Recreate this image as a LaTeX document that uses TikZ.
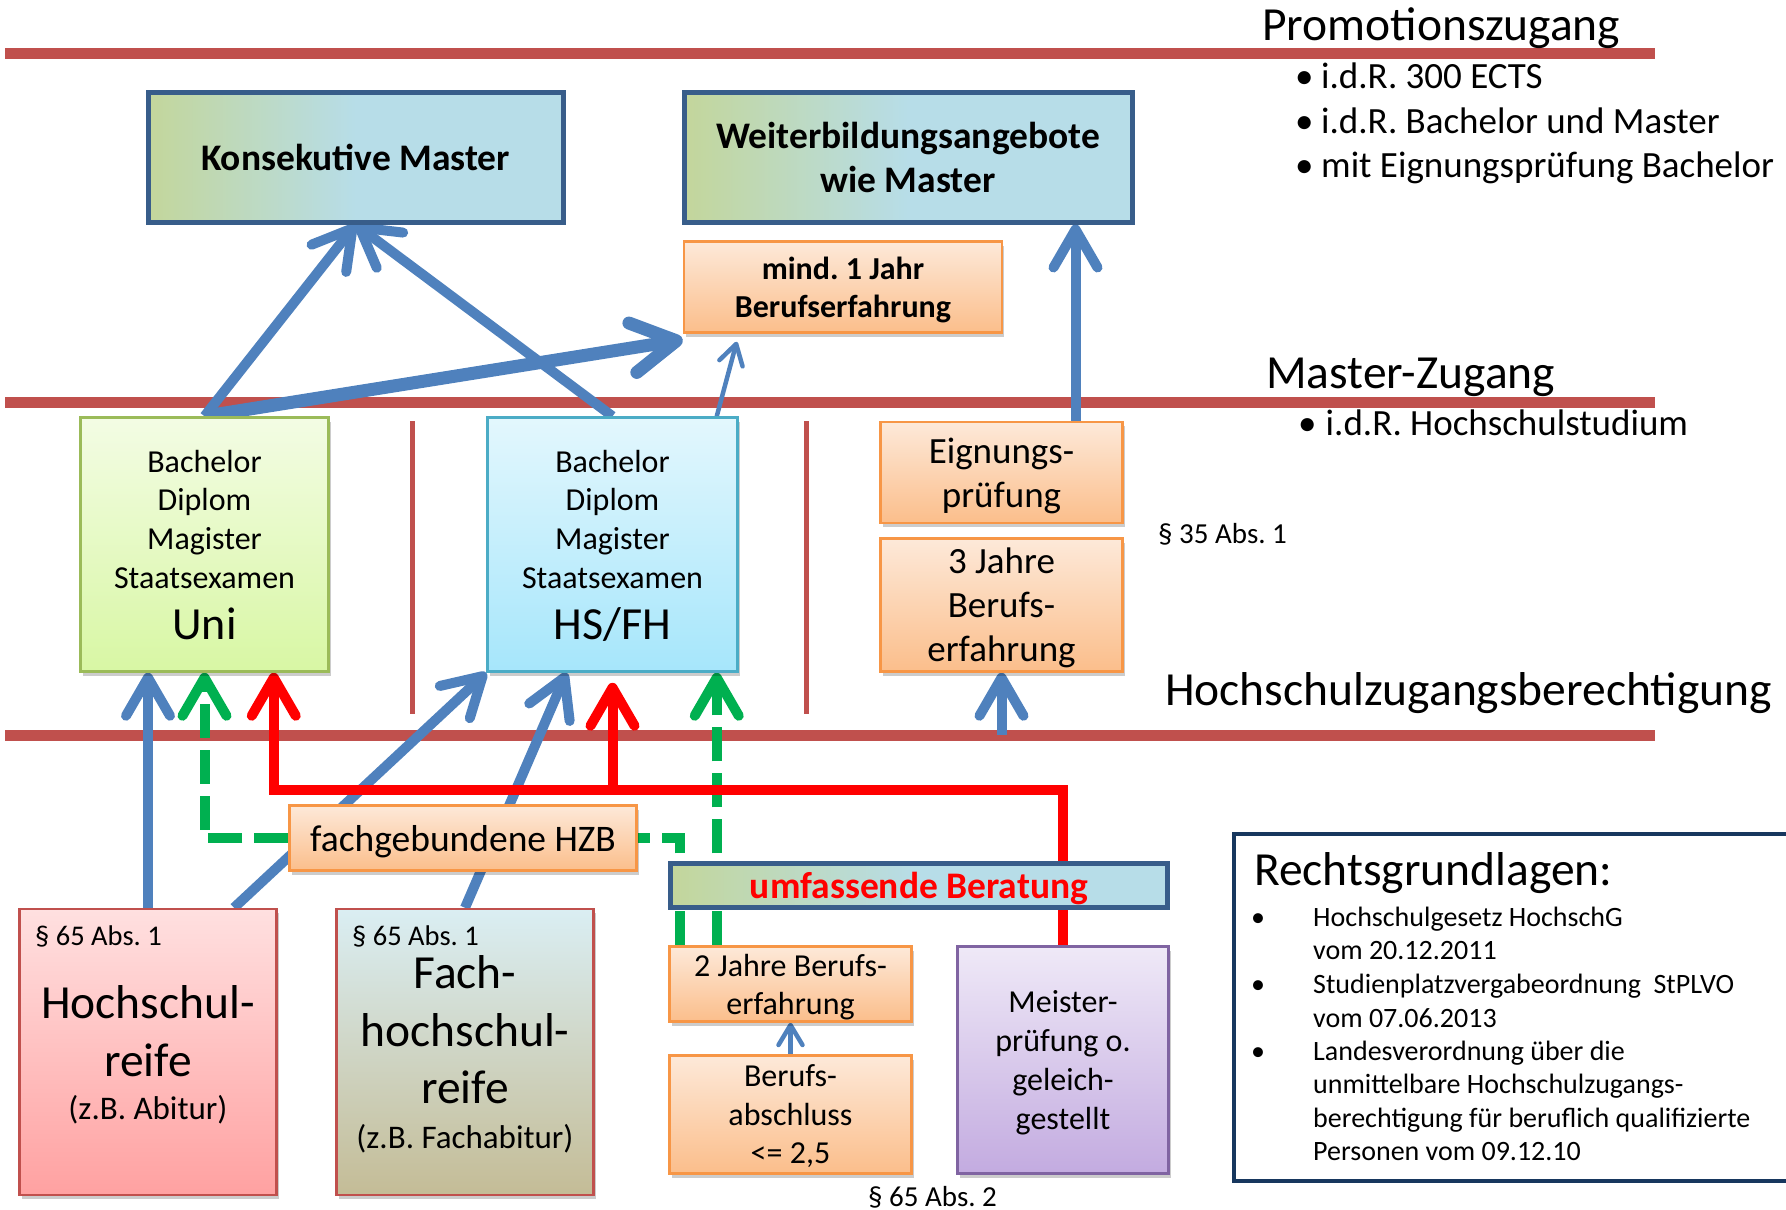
\documentclass[tikz,border=0pt]{standalone}
\usepackage{fontspec}
\setmainfont{Carlito}
\frenchspacing
\usetikzlibrary{arrows.meta,shadows,calc}
\newcommand\myfs[2]{\fontsize{#1}{#2}\selectfont}
\definecolor{bandred}{HTML}{C0504D}
\definecolor{arrblue}{HTML}{4F81BD}
\definecolor{arrgreen}{HTML}{00B050}
\definecolor{arrred}{HTML}{FF0000}
\definecolor{navyA}{HTML}{385D8A}
\definecolor{navyB}{HTML}{17375E}
\definecolor{gbL}{HTML}{C3D69B}
\definecolor{gbR}{HTML}{B7DDE8}
\definecolor{orBorder}{HTML}{F79646}
\definecolor{orTop}{HTML}{FDE9D9}
\definecolor{orBot}{HTML}{FBBE8B}
\definecolor{uniTop}{HTML}{F3FCE4}
\definecolor{uniBot}{HTML}{D8F7A4}
\definecolor{uniBorder}{HTML}{9BBB59}
\definecolor{hsTop}{HTML}{E3F7FD}
\definecolor{hsBot}{HTML}{A6E6FB}
\definecolor{hsBorder}{HTML}{4BACC6}
\definecolor{hsrTop}{HTML}{FFE0E0}
\definecolor{hsrBot}{HTML}{FFA1A1}
\definecolor{fhrTop}{HTML}{DAEEF3}
\definecolor{fhrBot}{HTML}{C4BC96}
\definecolor{meisTop}{HTML}{EFE9F7}
\definecolor{meisBot}{HTML}{C3ABE0}
\definecolor{meisBorder}{HTML}{8064A2}
\pgfdeclarelayer{bg}
\pgfdeclarelayer{arr}
\pgfsetlayers{bg,arr,main}
\begin{document}
\begin{tikzpicture}[x=1pt,y=-1pt,
  bandline/.style={draw=bandred,line width=11pt},
  divider/.style={draw=bandred,line width=5pt},
  boxbase/.style={rectangle,inner sep=0pt,align=center,line width=2.5pt,text depth=0pt},
  shad/.style={drop shadow={shadow xshift=2pt,shadow yshift=-4pt,fill=black,opacity=0.2}},
  orbox/.style={boxbase,shad,draw=orBorder,top color=orTop,bottom color=orBot},
  gbbox/.style={boxbase,draw=navyA,line width=5pt,left color=gbL,right color=gbR,middle color=gbR},
  freetext/.style={inner sep=0pt,anchor=base west},
  titletext/.style={freetext,font=\myfs{47.5}{50}},
  bullettext/.style={freetext,font=\myfs{37}{44}},
  legaltext/.style={freetext,font=\myfs{28}{33}},
  arrB/.style={draw=arrblue,line width=10pt,-{Straight Barb[length=38pt,width=44pt,round]}},
  arrBthick/.style={draw=arrblue,line width=13pt,-{Straight Barb[length=44pt,width=50pt,round]}},
  arrBthin/.style={draw=arrblue,line width=4.5pt,-{Straight Barb[length=20pt,width=24pt,round]}},
  arrG/.style={draw=arrgreen,line width=10pt,dash pattern=on 34pt off 12pt,-{Straight Barb[length=38pt,width=44pt,round]}},
  lineG/.style={draw=arrgreen,line width=10pt,dash pattern=on 34pt off 12pt},
  arrR/.style={draw=arrred,line width=10pt,line join=miter,-{Straight Barb[length=38pt,width=44pt,round]}}
]
\useasboundingbox (0,0) rectangle (1786,1210);

% bands
\begin{pgfonlayer}{bg}
\draw[bandline] (5,53) -- (1655,53);
\draw[bandline] (5,402) -- (1655,402);
\draw[bandline] (5,735) -- (1655,735);
\draw[divider] (412,421) -- (412,714);
\draw[divider] (806,421) -- (806,714);
\end{pgfonlayer}

% titles
\node[titletext] (prom) at (1262,40) {Promotionszugang};
\node[bullettext] (pb1) at (1295,88) {\makebox[26pt][l]{•}i.d.R. 300 ECTS};
\node[bullettext] (pb2) at (1295,133) {\makebox[26pt][l]{•}i.d.R. Bachelor und Master};
\node[bullettext] (pb3) at (1295,177) {\makebox[26pt][l]{•}mit Eignungsprüfung Bachelor};
\node[titletext] (mzug) at (1266,388) {Master-Zugang};
\node[bullettext] (mb1) at (1298,435) {\makebox[27.5pt][l]{•}i.d.R. Hochschulstudium};
\node[titletext] (hzb) at (1165,705) {Hochschulzugangsberechtigung};
\node[freetext,font=\myfs{29}{33}] (p35) at (1158,543) {§ 35 Abs. 1};
\node[freetext,font=\myfs{29}{33}] (p652) at (868,1206) {§ 65 Abs. 2};

% top boxes
\node[gbbox,minimum width=415pt,minimum height=130pt,font=\bfseries\myfs{37.5}{44}] (kons) at (355.5,157) {Konsekutive Master};
\node[gbbox,minimum width=448pt,minimum height=130pt,font=\bfseries\myfs{37.5}{44}] (weiter) at (908,157) {Weiterbildungsangebote\\wie Master};
\node[orbox,minimum width=318pt,minimum height=91pt,font=\bfseries\myfs{32}{38}] (mind) at (843,287) {mind. 1 Jahr\\Berufserfahrung};

% middle boxes
\node[boxbase,shad,draw=uniBorder,top color=uniTop,bottom color=uniBot,minimum width=248pt,minimum height=254pt,font=\myfs{32}{38.7}] (uni) at (204.5,544.5)
  {Bachelor\\Diplom\\Magister\\Staatsexamen\\[12pt]{\myfs{46}{46}Uni}};
\node[boxbase,shad,draw=hsBorder,top color=hsTop,bottom color=hsBot,minimum width=250pt,minimum height=254pt,font=\myfs{32}{38.7}] (hs) at (612.5,544.5)
  {Bachelor\\Diplom\\Magister\\Staatsexamen\\[12pt]{\myfs{46}{46}HS/FH}};
\node[orbox,minimum width=242pt,minimum height=101pt,font=\myfs{37}{44}] (eig) at (1001.5,472.5) {Eignungs-\\prüfung};
\node[orbox,minimum width=242pt,minimum height=133pt,font=\myfs{37}{44}] (drei) at (1001.5,605) {3 Jahre\\Berufs-\\erfahrung};

% bottom boxes
\node[boxbase,shad,draw=bandred,top color=hsrTop,bottom color=hsrBot,minimum width=257pt,minimum height=286pt,font=\myfs{47.5}{58}] (hsr) at (148,1052)
  {Hochschul-\\reife\\[-15pt]{\myfs{33}{33}(z.B. Abitur)}};
\node[freetext,font=\myfs{28.5}{33}] (hsrp) at (35,945) {§ 65 Abs. 1};
\node[boxbase,shad,draw=bandred,top color=fhrTop,bottom color=fhrBot,minimum width=257pt,minimum height=286pt,font=\myfs{47.5}{57.5}] (fhr) at (465,1052)
  {Fach-\\hochschul-\\reife\\[-13pt]{\myfs{33}{33}(z.B. Fachabitur)}};
\node[freetext,font=\myfs{28.5}{33}] (fhrp) at (352,945) {§ 65 Abs. 1};
\node[orbox,minimum width=347pt,minimum height=65pt,font=\myfs{37.5}{44}] (fgh) at (463,838) {fachgebundene HZB};
\node[gbbox,minimum width=497pt,minimum height=44pt,font=\bfseries\myfs{37.5}{40},text=arrred] (umf) at (919,885.5) {umfassende Beratung};
\node[orbox,minimum width=242pt,minimum height=75pt,font=\myfs{32}{38}] (zwei) at (790.5,984) {2 Jahre Berufs-\\erfahrung};
\node[orbox,minimum width=242pt,minimum height=118pt,font=\myfs{32}{38.5}] (bab) at (790.5,1114.5) {Berufs-\\abschluss\\<= 2,5};
\node[boxbase,shad,draw=meisBorder,top color=meisTop,bottom color=meisBot,minimum width=211pt,minimum height=227pt,font=\myfs{32}{39}] (meis) at (1063,1060)
  {Meister-\\prüfung o.\\geleich-\\gestellt};

% Rechtsgrundlagen
\node[draw=navyB,line width=4pt,fill=white,rectangle,inner sep=0pt,minimum width=561pt,minimum height=347pt] (recht) at (1514.5,1007.5) {};
\node[titletext] (rtitle) at (1254,885) {Rechtsgrundlagen:};
\node[legaltext] (r1) at (1251,926) {\makebox[62pt][l]{•}Hochschulgesetz HochschG};
\node[legaltext] (r2) at (1313,959) {vom 20.12.2011};
\node[legaltext] (r3) at (1251,993) {\makebox[62pt][l]{•}Studienplatzvergabeordnung\ \ StPLVO};
\node[legaltext] (r4) at (1313,1027) {vom 07.06.2013};
\node[legaltext] (r5) at (1251,1060) {\makebox[62pt][l]{•}Landesverordnung über die};
\node[legaltext] (r6) at (1313,1093) {unmittelbare Hochschulzugangs-};
\node[legaltext] (r7) at (1313,1127) {berechtigung für beruflich qualifizierte};
\node[legaltext] (r8) at (1313,1160) {Personen vom 09.12.10};

% helper coordinates
\coordinate (e5) at ([xshift=74pt]eig.north);
\coordinate (h4) at ([xshift=-22pt]hs.north east);
\coordinate (m4) at ([xshift=54pt,yshift=-8pt]mind.south west);
\coordinate (m3) at ([yshift=-6pt]mind.south west);
\coordinate (h7) at ([xshift=86pt]hsr.north);
\coordinate (h8) at ([xshift=-46pt]hs.south);
\coordinate (band3) at (0,735);
\coordinate (g3) at ([xshift=-22pt]hs.south east);
\coordinate (redY) at (0,790);
\coordinate (ru) at ([xshift=-56pt]uni.south east);
\coordinate (rh) at ([yshift=-10pt]hs.south);

\begin{pgfonlayer}{arr}
% blue arrows
\draw[arrB] (uni.north) -- (kons.south);
\draw[arrB] (hs.north) -- (kons.south);
\draw[arrBthick] (uni.north) -- (m3);
\draw[arrBthin] (h4) -- (m4);
\draw[arrB] (e5) -- (e5 |- weiter.south);
\draw[arrB] (hsr.north) -- (hsr.north |- uni.south);
\draw[arrB] (h7) -- (hs.south west);
\draw[arrB] (fhr.north) -- (h8);
\draw[arrBthin] (bab.north) -- (zwei.south);
\draw[arrB] (drei.south |- band3) -- (drei.south);
% green dashed
\draw[arrG] (fgh.west) -| (uni.south);
\draw[lineG] ([xshift=12pt]zwei.north west) |- (fgh.east);
\draw[arrG] (g3 |- zwei.north) -- (g3);
% red
\draw[arrR] (meis.north) |- (redY -| ru) -- (ru);
\draw[arrR] (redY -| hs.south) -- (rh);
\end{pgfonlayer}
\end{tikzpicture}
\end{document}
